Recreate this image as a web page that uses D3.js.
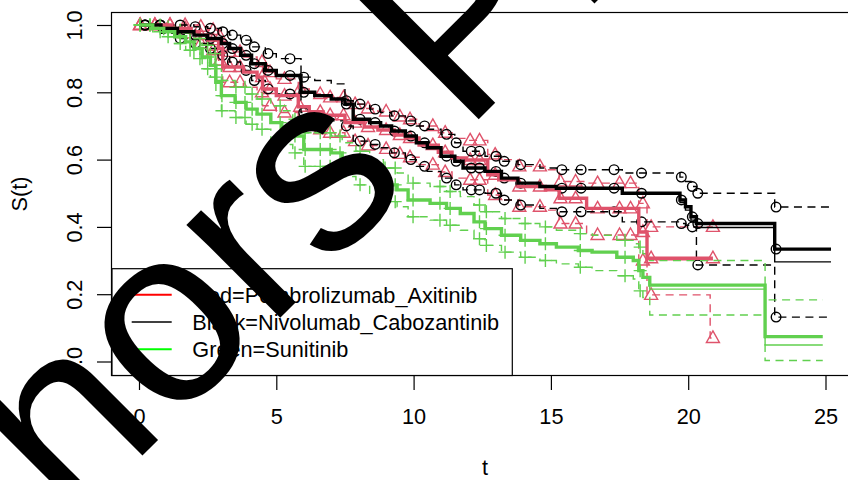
<!DOCTYPE html>
<html>
<head>
<meta charset="utf-8">
<script src="https://cdn.jsdelivr.net/npm/d3@7"></script>
<style>
  body { margin: 0; background: #fff; }
  svg { display: block; }
  text { font-family: "Liberation Sans", Arial, Helvetica, sans-serif; }
</style>
</head>
<body>
<svg id="chart" width="848" height="480"></svg>
<script>
// Kaplan-Meier survival estimates by treatment arm (step times in months)
const legendLabels = ["Red=Pembrolizumab_Axitinib", "Black=Nivolumab_Cabozantinib", "Green=Sunitinib"];
const xTicks = [0, 5, 10, 15, 20, 25];
const yTicks = [0, 0.2, 0.4, 0.6, 0.8, 1.0];
const yTickLabels = ["0.0", "0.2", "0.4", "0.6", "0.8", "1.0"];

// Pembrolizumab + Axitinib
const redTimes = [0, 1.2, 1.9, 2.2, 2.5, 2.9, 3.05, 3.8, 4.3, 4.5, 5.0, 5.8, 6.2, 6.7, 7.5, 8.2, 8.7, 9.3, 9.7, 10.2, 10.9, 11.4, 11.9, 12.7, 13.1, 13.8, 14.8, 15.3, 16.3, 18.2, 18.5, 20.8];
const redSurv  = [1.0, .99, .98, .97, .955, .93, .875, .86, .845, .81, .79, .757, .742, .732, .71, .697, .688, .673, .664, .643, .622, .605, .599, .555, .54, .52, .51, .485, .455, .385, .307, .307];
const redThin  = [1.0, .99, .98, .97, .955, .93, .875, .86, .845, .81, .79, .757, .742, .732, .71, .697, .688, .673, .664, .643, .622, .605, .599, .555, .54, .52, .51, .485, .455, .385, .302, .302];
const redUpper = [1.0, 1.0, 1.0, .995, .985, .965, .92, .905, .89, .86, .84, .81, .795, .785, .765, .752, .743, .728, .72, .70, .68, .663, .657, .615, .60, .58, .57, .535, .53, .47, .40, .40];
const redLower = [1.0, .975, .96, .945, .925, .895, .83, .815, .80, .76, .74, .705, .69, .68, .655, .642, .632, .617, .607, .585, .563, .545, .54, .495, .48, .46, .45, .41, .376, .30, .198, .07];
const redCensor = [0.04, 0.58, 1.13, 1.68, 2.25, 2.7, 2.95, 3.3, 3.68, 4.48, 4.77, 5.3, 5.87, 6.6, 6.96, 7.45, 7.87, 8.34, 9.0, 9.5, 9.87, 10.7, 11.15, 12.06, 12.4, 12.97, 13.85, 14.6, 15.35, 15.9, 16.7, 17.5, 17.9, 18.35, 18.65, 20.9];
const redEnd = 20.9;

// Nivolumab + Cabozantinib
const blackTimes = [0, 0.8, 1.4, 2.0, 2.5, 3.0, 3.3, 3.7, 4.1, 4.6, 5.0, 5.9, 6.4, 7.0, 7.5, 7.8, 8.4, 8.8, 9.2, 9.7, 10.1, 10.5, 11.0, 11.5, 11.8, 12.6, 13.2, 13.8, 14.6, 15.2, 17.6, 19.7, 19.9, 20.1, 20.3, 23.15];
const blackSurv  = [1.0, .99, .98, .97, .96, .945, .93, .91, .885, .865, .85, .80, .79, .78, .765, .72, .71, .70, .685, .67, .65, .635, .61, .595, .575, .565, .545, .53, .52, .515, .50, .48, .46, .43, .41, .334];
const blackThin  = [1.0, .99, .98, .97, .96, .945, .93, .91, .885, .865, .85, .80, .79, .78, .765, .72, .71, .70, .685, .67, .65, .635, .61, .595, .575, .565, .545, .53, .52, .515, .497, .472, .45, .42, .398, .296];
const blackUpper = [1.0, 1.0, 1.0, .995, .99, .98, .97, .955, .935, .915, .90, .845, .835, .825, .775, .765, .75, .74, .73, .715, .70, .69, .675, .65, .625, .61, .595, .585, .575, .57, .56, .548, .535, .52, .50, .459];
const blackLower = [1.0, .975, .96, .945, .93, .91, .89, .865, .835, .81, .795, .74, .73, .715, .70, .655, .645, .635, .62, .60, .58, .565, .545, .525, .51, .50, .48, .465, .455, .445, .415, .41, .405, .40, .287, .132];
const blackCensor = [0.22, 0.77, 1.5, 2.05, 2.6, 3.05, 3.4, 3.9, 4.2, 4.7, 5.5, 6.0, 7.55, 8.05, 8.6, 9.3, 9.9, 10.4, 11.2, 11.55, 12.1, 12.4, 13.0, 13.3, 13.9, 15.4, 16.1, 17.3, 18.3, 19.75, 20.15, 20.35, 23.2];
const blackEnd = 25.2;

// Sunitinib
const greenTimes = [0, 0.5, 0.9, 1.3, 1.7, 2.0, 2.3, 2.6, 2.8, 3.0, 3.5, 3.9, 4.3, 4.8, 5.2, 5.6, 6.0, 7.0, 7.4, 7.9, 8.4, 8.9, 9.4, 9.8, 10.6, 11.2, 11.7, 12.2, 12.6, 13.2, 13.9, 14.6, 15.2, 16.0, 16.5, 17.4, 18.0, 18.2, 18.35, 18.6, 22.8];
const greenSurv  = [1.0, .99, .98, .965, .95, .93, .905, .88, .83, .79, .77, .75, .735, .71, .695, .67, .63, .62, .60, .575, .55, .525, .51, .48, .47, .455, .44, .415, .395, .375, .36, .35, .34, .33, .325, .31, .30, .27, .25, .227, .074];
const greenThin  = [1.0, .99, .98, .965, .95, .93, .905, .88, .83, .79, .77, .75, .735, .71, .695, .67, .63, .62, .60, .575, .55, .525, .51, .48, .47, .455, .44, .415, .395, .375, .36, .35, .34, .33, .325, .31, .30, .27, .25, .215, .049];
const greenUpper = [1.0, 1.0, .995, .985, .975, .96, .94, .915, .87, .835, .815, .795, .78, .76, .745, .72, .68, .67, .65, .625, .60, .575, .56, .53, .52, .505, .49, .465, .445, .425, .41, .40, .39, .38, .375, .36, .35, .34, .32, .30, .183];
const greenLower = [1.0, .98, .965, .945, .925, .90, .87, .845, .79, .745, .725, .705, .69, .66, .645, .62, .58, .57, .55, .525, .50, .475, .46, .43, .42, .405, .39, .365, .345, .325, .31, .30, .29, .28, .27, .255, .245, .21, .19, .138, .003];
const greenCensor = [0.04, 0.4, 0.77, 1.06, 1.5, 1.86, 2.22, 2.5, 2.77, 3.02, 3.53, 3.86, 4.12, 4.48, 5.14, 5.68, 6.05, 6.6, 6.96, 7.32, 8.05, 8.96, 9.33, 9.98, 10.96, 11.33, 12.4, 12.65, 13.33, 14.06, 14.8, 16.07, 17.7, 18.25];
const greenEnd = 24.9;

const svg = d3.select("#chart");
const W = 848, H = 480;
const box = { left: 111.5, top: 12.5, bottom: 375.5, right: 860 };
const fontSize = 21.7;

const x = d3.scaleLinear().domain([0, 25]).range([139, 825.5]);
const y = d3.scaleLinear().domain([0, 1]).range([361.5, 25]);

svg.append("rect").attr("width", W).attr("height", H).attr("fill", "#fff");

const groups = [
  { times: redTimes, surv: redSurv, thin: redThin, upper: redUpper, lower: redLower, censor: redCensor, end: redEnd, color: "#DF536B", mark: "triangle" },
  { times: blackTimes, surv: blackSurv, thin: blackThin, upper: blackUpper, lower: blackLower, censor: blackCensor, end: blackEnd, color: "#000000", mark: "circle" },
  { times: greenTimes, surv: greenSurv, thin: greenThin, upper: greenUpper, lower: greenLower, censor: greenCensor, end: greenEnd, color: "#61D04F", mark: "plus" }
];

const stepLine = d3.line().x(d => x(d[0])).y(d => y(d[1])).curve(d3.curveStepAfter);
function stepPoints(times, vals, end) {
  const p = times.map((t, i) => [t, vals[i]]);
  p.push([end, vals[vals.length - 1]]);
  return p;
}
function valueAt(times, vals, t) {
  return vals[Math.max(0, d3.bisectRight(times, t) - 1)];
}

const curves = svg.append("g");

// confidence bands, secondary estimate and censoring marks
groups.forEach(g => {
  const layer = curves.append("g");
  [g.upper, g.lower].forEach(vals => {
    layer.append("path")
      .attr("d", stepLine(stepPoints(g.times, vals, g.end)))
      .attr("fill", "none").attr("stroke", g.color)
      .attr("stroke-width", 1.4).attr("stroke-dasharray", "8,5.5");
  });
  layer.append("path")
    .attr("d", stepLine(stepPoints(g.times, g.thin, g.end)))
    .attr("fill", "none").attr("stroke", g.color).attr("stroke-width", 1.4);

  const marks = [];
  g.censor.forEach(t => {
    [g.surv, g.upper, g.lower].forEach(vals => marks.push([t, valueAt(g.times, vals, t)]));
  });
  const m = layer.append("g").attr("fill", "none").attr("stroke", g.color).attr("stroke-width", 1.4);
  marks.forEach(d => {
    const cx = x(d[0]), cy = y(d[1]);
    if (g.mark === "circle") {
      m.append("circle").attr("cx", cx).attr("cy", cy).attr("r", 4.8);
    } else if (g.mark === "triangle") {
      m.append("path").attr("d", `M${cx},${cy - 7}L${cx + 6.5},${cy + 4.5}L${cx - 6.5},${cy + 4.5}Z`);
    } else {
      m.append("path").attr("d", `M${cx - 6.5},${cy}H${cx + 6.5}M${cx},${cy - 6.5}V${cy + 6.5}`);
    }
  });
});

// main survival estimates
groups.forEach(g => {
  curves.append("path")
    .attr("d", stepLine(stepPoints(g.times, g.surv, g.end)))
    .attr("fill", "none").attr("stroke", g.color).attr("stroke-width", 3.4);
});

// plot frame
svg.append("rect")
  .attr("x", box.left).attr("y", box.top)
  .attr("width", box.right - box.left).attr("height", box.bottom - box.top)
  .attr("fill", "none").attr("stroke", "#000").attr("stroke-width", 1.2);

// x axis
const xAxis = svg.append("g")
  .attr("transform", `translate(0,${box.bottom})`)
  .call(d3.axisBottom(x).tickValues(xTicks).tickSize(14.5).tickPadding(18.6).tickFormat(d3.format("d")));
xAxis.select(".domain").remove();
xAxis.selectAll("line").attr("stroke", "#000").attr("stroke-width", 1.2);
xAxis.selectAll("text").attr("fill", "#000").attr("font-size", fontSize)
  .style("font-family", '"Liberation Sans", Arial, sans-serif');

// y axis
const yAxis = svg.append("g")
  .attr("transform", `translate(${box.left},0)`)
  .call(d3.axisLeft(y).tickValues(yTicks).tickSize(14.5).tickFormat((d, i) => yTickLabels[i]));
yAxis.select(".domain").remove();
yAxis.selectAll("line").attr("stroke", "#000").attr("stroke-width", 1.2);
yAxis.selectAll("text")
  .attr("x", null).attr("dy", null).attr("y", null)
  .attr("transform", "translate(-29.5,0) rotate(-90)")
  .attr("text-anchor", "middle")
  .attr("fill", "#000").attr("font-size", fontSize)
  .style("font-family", '"Liberation Sans", Arial, sans-serif');

// axis titles
svg.append("text").attr("x", 485).attr("y", 475).attr("text-anchor", "middle")
  .attr("font-size", fontSize).text("t");
svg.append("text").attr("transform", "translate(27,194) rotate(-90)").attr("text-anchor", "middle")
  .attr("font-size", fontSize).text("S(t)");

// legend
const legendColors = ["#FF0000", "#000000", "#00FF00"];
const legendWidths = [2, 1.3, 2];
const lg = svg.append("g");
lg.append("rect").attr("x", 112).attr("y", 268.7).attr("width", 400.3).attr("height", 106.8)
  .attr("fill", "#fff").attr("stroke", "#000").attr("stroke-width", 1.2);
legendLabels.forEach((label, i) => {
  const ly = 294.7 + i * 27.3;
  lg.append("line").attr("x1", 131.7).attr("x2", 171.7).attr("y1", ly).attr("y2", ly)
    .attr("stroke", legendColors[i]).attr("stroke-width", legendWidths[i]);
  lg.append("text").attr("x", 192.3).attr("y", ly + 7.8).attr("font-size", fontSize).text(label);
});

// watermark
svg.append("text")
  .attr("transform", "translate(-194,792) rotate(-45)")
  .attr("font-size", 250).attr("fill", "#000")
  .text("Authors Proof");
</script>
</body>
</html>
